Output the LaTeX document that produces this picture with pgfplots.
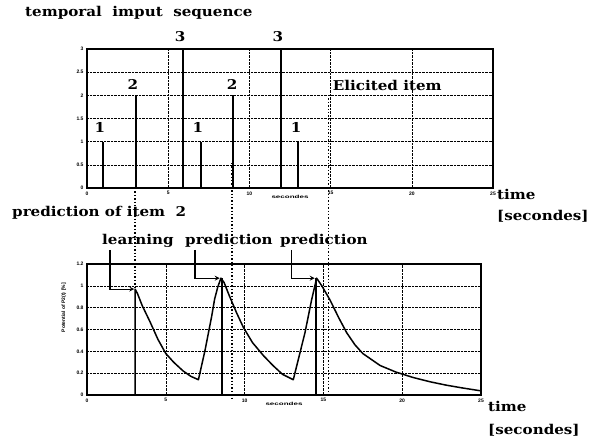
\documentclass[border=0pt]{standalone}
\usepackage{fontspec}
\setmainfont{DejaVu Serif}[FakeStretch=1.12]
\newfontfamily\tickfont{Liberation Sans}
\usepackage{pgfplots}
\pgfplotsset{compat=1.18}
\newcommand\lab{\bfseries\fontsize{13.5}{14}\selectfont}
\newcommand\tck{\tickfont\bfseries\fontsize{5}{5}\selectfont}
\begin{document}
\begin{tikzpicture}
\useasboundingbox (0pt,0pt) rectangle (592pt,438pt);
\pgfplotsset{
  every axis/.append style={
    scale only axis, anchor=south west, clip=false,
    axis line style={line width=1.2pt}, tick style={black, line width=0.5pt},
    major tick length=2pt,
    grid=major, grid style={densely dotted, black, line width=0.5pt},
    tick label style={font=\tck}, /pgf/number format/assume math mode=true,
    xmin=0, xmax=25, xtick={0,5,...,25},
    xlabel={\scalebox{1.6}[0.9]{secondes}},
    every axis x label/.style={at={(axis description cs:0.5,0)}, anchor=north, yshift=-3.5pt, font=\tck},
  }
}
% top: input sequence
\begin{axis}[at={(87pt,250pt)}, width=406pt, height=139pt,
  ymin=0, ymax=3, ytick={0,0.5,...,3}]
\addplot[ycomb, line width=1.8pt, black, mark=none] coordinates {
(1,1) (3,2) (5.93,3) (7,1) (9,2) (11.95,3) (13,1)};
\node[font=\lab, anchor=base] at (axis cs:5.73,3.16) {3};
\node[font=\lab, anchor=base] at (axis cs:11.76,3.16) {3};
\node[font=\lab, anchor=base] at (axis cs:2.83,2.12) {2};
\node[font=\lab, anchor=base] at (axis cs:8.93,2.12) {2};
\node[font=\lab, anchor=base] at (axis cs:0.8,1.19) {1};
\node[font=\lab, anchor=base] at (axis cs:6.83,1.19) {1};
\node[font=\lab, anchor=base] at (axis cs:12.87,1.19) {1};
\node[font=\lab, anchor=base west, inner sep=0pt] at (axis cs:15.13,2.10) {Elicited item};
\end{axis}
% bottom: prediction of item 2
\begin{axis}[at={(87pt,43pt)}, width=394pt, height=131pt,
  ymin=0, ymax=1.2, ytick={0,0.2,...,1.2}]
\addplot[line width=1.5pt, black, mark=none, line join=round] coordinates {
(0,0) (3.05,0) (3.05,0.97) (3.2,0.93) (3.5,0.82) (4.0,0.67) (4.5,0.51) (5.0,0.38)
(5.5,0.30) (6.1,0.22) (6.6,0.17) (7.07,0.14) (7.49,0.41) (7.91,0.72) (8.1,0.88)
(8.3,0.99) (8.5,1.07) (8.7,1.03) (9.0,0.92) (9.5,0.75) (9.92,0.62) (10.5,0.48)
(11.2,0.36) (11.8,0.27) (12.4,0.19) (13.09,0.14) (13.45,0.35) (13.83,0.57)
(14.25,0.87) (14.57,1.07) (14.9,1.0) (15.42,0.87) (16.0,0.70) (16.48,0.57)
(17.0,0.46) (17.5,0.38) (18.6,0.27) (19.6,0.21) (20.7,0.16) (21.8,0.12)
(22.8,0.09) (23.8,0.065) (24.9,0.04) (25,0.04)};
\addplot[line width=1.5pt, black, mark=none] coordinates {(8.57,0) (8.57,1.07)};
\addplot[line width=1.5pt, black, mark=none] coordinates {(14.53,0) (14.53,1.07)};
\draw[line width=1.2pt, -stealth] (axis cs:1.46,1.33) |- (axis cs:3.0,0.97);
\draw[line width=1.2pt, -stealth] (axis cs:6.85,1.33) |- (axis cs:8.42,1.07);
\draw[line width=1.2pt, -stealth] (axis cs:13.0,1.33) |- (axis cs:14.45,1.07);
\node[rotate=90, font=\tck, anchor=south] at (axis cs:-1.1,0.8) {Potential of P2(t) [\%]};
\end{axis}
% connecting dotted lines
\begin{scope}[line width=1.4pt, dash pattern=on 1.4pt off 2pt]
\draw (135pt,250pt) -- (135pt,148pt);
\draw (232pt,275pt) -- (232pt,38pt);
\draw (328.5pt,343pt) -- (328.5pt,45pt);
\end{scope}
% texts
\node[font=\lab, anchor=base west, inner sep=0pt] at (25pt,421pt) {temporal\ \ imput\ \ sequence};
\node[font=\lab, anchor=base west, inner sep=0pt] at (12pt,221.3pt) {prediction of item\ \ 2};
\node[font=\lab, anchor=base west, inner sep=0pt] at (102pt,193pt) {learning};
\node[font=\lab, anchor=base west, inner sep=0pt] at (185pt,193pt) {prediction};
\node[font=\lab, anchor=base west, inner sep=0pt] at (280pt,193pt) {prediction};
\node[font=\lab, anchor=base west, inner sep=0pt] at (497pt,238pt) {time};
\node[font=\lab, anchor=base west, inner sep=0pt] at (497pt,217pt) {[secondes]};
\node[font=\lab, anchor=base west, inner sep=0pt] at (488pt,26.3pt) {time};
\node[font=\lab, anchor=base west, inner sep=0pt] at (488pt,3.5pt) {[secondes]};
\end{tikzpicture}
\end{document}
